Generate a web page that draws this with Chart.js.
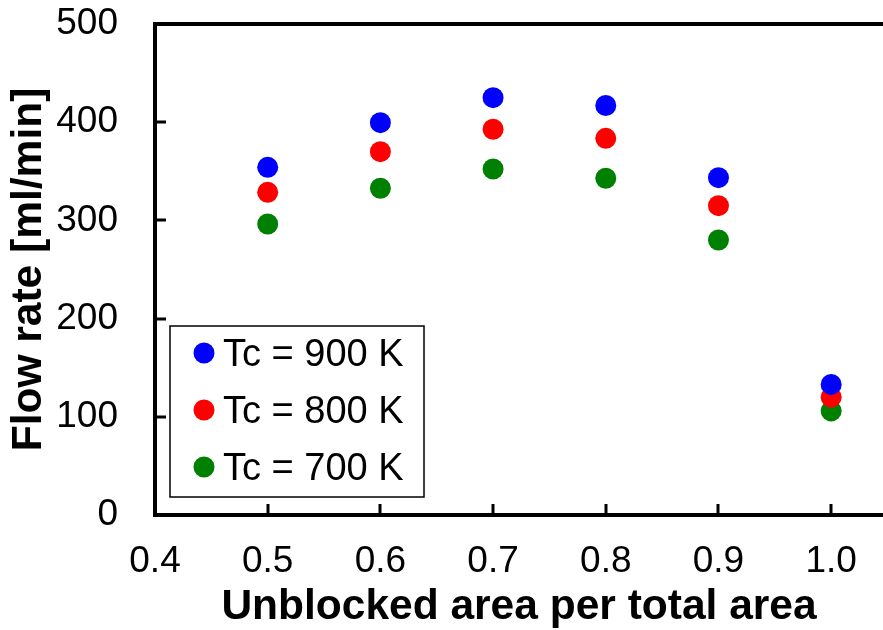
<!DOCTYPE html>
<html>
<head>
<meta charset="utf-8">
<script src="https://cdn.jsdelivr.net/npm/chart.js@4/dist/chart.umd.min.js"></script>
<style>
html,body{margin:0;padding:0;background:#fff;}
#wrap{width:883px;height:630px;}
</style>
</head>
<body>
<div id="wrap"><canvas id="c" width="883" height="630"></canvas></div>
<script>
const areaRatio = [0.5, 0.6, 0.7, 0.8, 0.9, 1.0];
const flow900 = [354, 399.5, 425, 417, 343.5, 133];
const flow800 = [328.6, 370, 392.8, 383.6, 315, 120];
const flow700 = [296.3, 332.7, 352.3, 342.9, 280, 106];
const seriesLabels = ['Tc = 900 K', 'Tc = 800 K', 'Tc = 700 K'];
const seriesColors = ['#0000FF', '#FF0000', '#008000'];
const xTitle = 'Unblocked area per total area';
const yTitle = 'Flow rate [ml/min]';

const toPts = arr => areaRatio.map((x, i) => ({x: x, y: arr[i]}));
const FONT = '"Liberation Sans", Arial, sans-serif';

const framePlugin = {
  id: 'frame',
  afterDraw(chart) {
    const ctx = chart.ctx, a = chart.chartArea;
    const xs = chart.scales.x, ys = chart.scales.y;
    ctx.save();
    ctx.strokeStyle = '#000';
    ctx.lineCap = 'butt';
    ctx.lineWidth = 4;
    ctx.beginPath();
    ctx.moveTo(a.left, a.bottom + 2);
    ctx.lineTo(a.left, a.top - 2);
    ctx.moveTo(a.left - 2, a.top);
    ctx.lineTo(a.right, a.top);
    ctx.moveTo(a.left - 2, a.bottom);
    ctx.lineTo(a.right, a.bottom);
    ctx.stroke();
    ctx.lineWidth = 3;
    ctx.beginPath();
    xs.ticks.forEach(t => {
      const px = Math.round(xs.getPixelForValue(t.value));
      if (px <= a.left + 3) return;
      ctx.moveTo(px, a.bottom);
      ctx.lineTo(px, a.bottom - 11);
    });
    ys.ticks.forEach(t => {
      const py = Math.round(ys.getPixelForValue(t.value));
      if (py >= a.bottom - 3 || py <= a.top + 3) return;
      ctx.moveTo(a.left, py);
      ctx.lineTo(a.left + 11, py);
    });
    ctx.stroke();

    // legend
    const bx = 170, by = 326, bw = 254, bh = 171;
    ctx.fillStyle = '#fff';
    ctx.fillRect(bx, by, bw, bh);
    ctx.lineWidth = 1.5;
    ctx.strokeStyle = '#000';
    ctx.strokeRect(bx, by, bw, bh);
    ctx.font = '38px ' + FONT;
    ctx.textBaseline = 'alphabetic';
    ctx.textAlign = 'left';
    chart.data.datasets.forEach((ds, i) => {
      const cy = 353 + i * 57;
      ctx.fillStyle = ds.backgroundColor;
      ctx.beginPath();
      ctx.arc(204, cy, 10.5, 0, Math.PI * 2);
      ctx.fill();
      ctx.fillStyle = '#000';
      ctx.fillText(ds.label, 223, cy + 13);
    });
    ctx.restore();
  }
};

function zeroPad(s) {
  s.paddingTop = 0; s.paddingBottom = 0; s.paddingLeft = 0; s.paddingRight = 0;
}

new Chart(document.getElementById('c'), {
  type: 'scatter',
  data: {
    datasets: [
      {label: seriesLabels[0], data: toPts(flow900), backgroundColor: seriesColors[0]},
      {label: seriesLabels[1], data: toPts(flow800), backgroundColor: seriesColors[1]},
      {label: seriesLabels[2], data: toPts(flow700), backgroundColor: seriesColors[2]}
    ]
  },
  options: {
    responsive: false,
    animation: false,
    devicePixelRatio: 1,
    layout: {autoPadding: false, padding: {top: 24, right: 0, bottom: 0, left: 0}},
    elements: {point: {radius: 10.5, borderWidth: 0, hoverRadius: 10.5}},
    plugins: {legend: {display: false}, tooltip: {enabled: false}},
    scales: {
      x: {
        type: 'linear', min: 0.4, max: 1.046,
        grid: {display: false, drawTicks: false},
        border: {display: false},
        ticks: {stepSize: 0.1, includeBounds: false, padding: 25, color: '#000',
          font: {family: FONT, size: 37},
          callback: v => Number(v).toFixed(1)},
        title: {display: true, text: xTitle, color: '#000',
          font: {family: FONT, size: 42.5, weight: 'bold'}, padding: {top: 0, bottom: -3}},
        afterFit: s => { s.height = 115; zeroPad(s); }
      },
      y: {
        type: 'linear', min: 0, max: 500,
        grid: {display: false, drawTicks: false},
        border: {display: false},
        ticks: {stepSize: 100, padding: 37, color: '#000',
          font: {family: FONT, size: 37}},
        title: {display: true, text: yTitle, color: '#000',
          font: {family: FONT, size: 42.5, weight: 'bold'}, padding: {top: 4, bottom: 0}},
        afterFit: s => { s.width = 155; zeroPad(s); }
      }
    }
  },
  plugins: [framePlugin]
});
</script>
</body>
</html>
